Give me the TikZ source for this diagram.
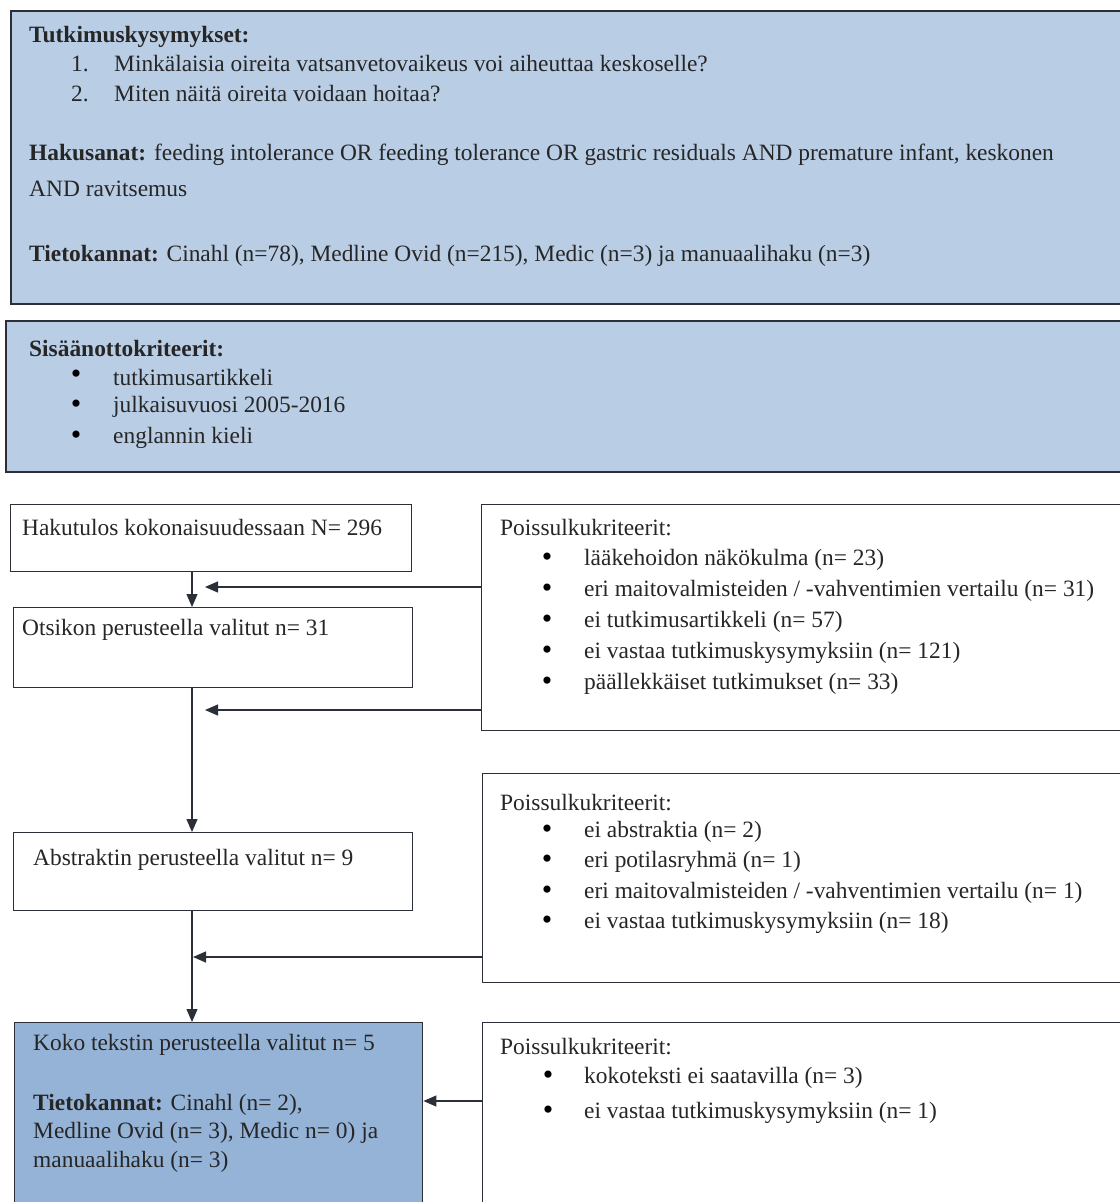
\documentclass[tikz,border=0pt]{standalone}
\usepackage{fontspec}
\setmainfont{Liberation Serif}
\usetikzlibrary{arrows.meta}
\definecolor{lightbox}{HTML}{B9CDE5}
\definecolor{darkbox}{HTML}{95B3D7}
\definecolor{edge}{HTML}{2A2F38}
\begin{document}
\begin{tikzpicture}[x=1bp,y=-1bp,
  bluebox/.style={draw=edge,line width=1.8bp,fill=lightbox,rectangle,anchor=north west,inner sep=0pt},
  whitebox/.style={draw=edge,line width=1.4bp,fill=white,rectangle,anchor=north west,inner sep=0pt},
  kokobox/.style={draw=edge,line width=1.4bp,fill=darkbox,rectangle,anchor=north west,inner sep=0pt},
  txt/.style={anchor=west,inner sep=0pt,font=\fontsize{23.5}{27}\selectfont,text=black!85},
  bul/.style={anchor=center,inner sep=0pt,font=\fontsize{30}{32}\selectfont,text=black},
  conn/.style={draw=edge,line width=1.3bp},
  arr/.style={conn,-{Triangle[length=13bp,width=11bp]}}
]
\useasboundingbox (0,0) rectangle (1120,1202);
% top boxes
\node[bluebox,minimum width=1110bp,minimum height=293bp] (q) at (10,10) {};
\node[txt] (qt) at (29,37) {\textbf{Tutkimuskysymykset:}};
\node[txt] (q1n) at (71,64) {1.};
\node[txt] (q1) at (114,64) {Minkälaisia oireita vatsanvetovaikeus voi aiheuttaa keskoselle?};
\node[txt] (q2n) at (71,94) {2.};
\node[txt] (q2) at (114,94) {Miten näitä oireita voidaan hoitaa?};
\node[txt] (hs) at (29,155) {\textbf{Hakusanat:} feeding intolerance OR feeding tolerance OR gastric residuals AND premature infant, keskonen};
\node[txt] (hs2) at (29,189) {AND ravitsemus};
\node[txt] (tk) at (29,256) {\textbf{Tietokannat:} Cinahl (n=78), Medline Ovid (n=215), Medic (n=3) ja manuaalihaku (n=3)};

\node[bluebox,minimum width=1115bp,minimum height=151bp] (s) at (5,320) {};
\node[txt] (st) at (29,349) {\textbf{Sisäänottokriteerit:}};
\node[bul] (sb1) at (76,377) {•};
\node[txt] (s1) at (113,377) {tutkimusartikkeli};
\node[bul] (sb2) at (76,407) {•};
\node[txt] (s2) at (113,407) {julkaisuvuosi 2005-2016};
\node[bul] (sb3) at (76,438) {•};
\node[txt] (s3) at (113,438) {englannin kieli};

% left column
\node[whitebox,minimum width=401bp,minimum height=67bp] (hak) at (10,504) {};
\node[txt] (hakt) at (22,527) {Hakutulos kokonaisuudessaan N= 296};
\node[whitebox,minimum width=399bp,minimum height=80bp] (ots) at (13,607) {};
\node[txt] (otst) at (22,630) {Otsikon perusteella valitut n= 31};
\node[whitebox,minimum width=399bp,minimum height=78bp] (abs) at (13,832) {};
\node[txt] (abst) at (33,860) {Abstraktin perusteella valitut n= 9};
\node[kokobox,minimum width=408bp,minimum height=200bp] (koko) at (14,1022) {};
\node[txt] (k1) at (33,1045) {Koko tekstin perusteella valitut n= 5};
\node[txt] (k2) at (33,1105) {\textbf{Tietokannat:} Cinahl (n= 2),};
\node[txt] (k3) at (33,1133) {Medline Ovid (n= 3), Medic n= 0) ja};
\node[txt] (k4) at (33,1162) {manuaalihaku (n= 3)};

% right column
\node[whitebox,minimum width=640bp,minimum height=226bp] (p1) at (481,504) {};
\node[txt] (p1t) at (500,528) {Poissulkukriteerit:};
\node[bul] (p1b1) at (547,560) {•};
\node[txt] (p1i1) at (584,560) {lääkehoidon näkökulma (n= 23)};
\node[bul] (p1b2) at (547,591) {•};
\node[txt] (p1i2) at (584,591) {eri maitovalmisteiden / -vahventimien vertailu (n= 31)};
\node[bul] (p1b3) at (547,622) {•};
\node[txt] (p1i3) at (584,622) {ei tutkimusartikkeli (n= 57)};
\node[bul] (p1b4) at (547,653) {•};
\node[txt] (p1i4) at (584,653) {ei vastaa tutkimuskysymyksiin (n= 121)};
\node[bul] (p1b5) at (547,684) {•};
\node[txt] (p1i5) at (584,684) {päällekkäiset tutkimukset (n= 33)};

\node[whitebox,minimum width=640bp,minimum height=209bp] (p2) at (482,773) {};
\node[txt] (p2t) at (500,803) {Poissulkukriteerit:};
\node[bul] (p2b1) at (547,832) {•};
\node[txt] (p2i1) at (584,832) {ei abstraktia (n= 2)};
\node[bul] (p2b2) at (547,862) {•};
\node[txt] (p2i2) at (584,862) {eri potilasryhmä (n= 1)};
\node[bul] (p2b3) at (547,893) {•};
\node[txt] (p2i3) at (584,893) {eri maitovalmisteiden / -vahventimien vertailu (n= 1)};
\node[bul] (p2b4) at (547,923) {•};
\node[txt] (p2i4) at (584,923) {ei vastaa tutkimuskysymyksiin (n= 18)};

\node[whitebox,minimum width=640bp,minimum height=200bp] (p3) at (482,1022) {};
\node[txt] (p3t) at (500,1047) {Poissulkukriteerit:};
\node[bul] (p3b1) at (548,1078) {•};
\node[txt] (p3i1) at (584,1078) {kokoteksti ei saatavilla (n= 3)};
\node[bul] (p3b2) at (548,1113) {•};
\node[txt] (p3i2) at (584,1113) {ei vastaa tutkimuskysymyksiin (n= 1)};

% connectors
\coordinate (vx) at (192,0);
\coordinate (t1) at (205,587);
\coordinate (t2) at (205,710);
\coordinate (t3) at (193,957);
\coordinate (t4) at (0,1101);
\draw[arr] (hak.south -| vx) -- (ots.north -| vx);
\draw[arr] (ots.south -| vx) -- (abs.north -| vx);
\draw[arr] (abs.south -| vx) -- (koko.north -| vx);
\draw[arr] (p1.west |- t1) -- (t1);
\draw[arr] (p1.west |- t2) -- (t2);
\draw[arr] (p2.west |- t3) -- (t3);
\draw[arr] (p3.west |- t4) -- (koko.east |- t4);
\end{tikzpicture}
\end{document}
